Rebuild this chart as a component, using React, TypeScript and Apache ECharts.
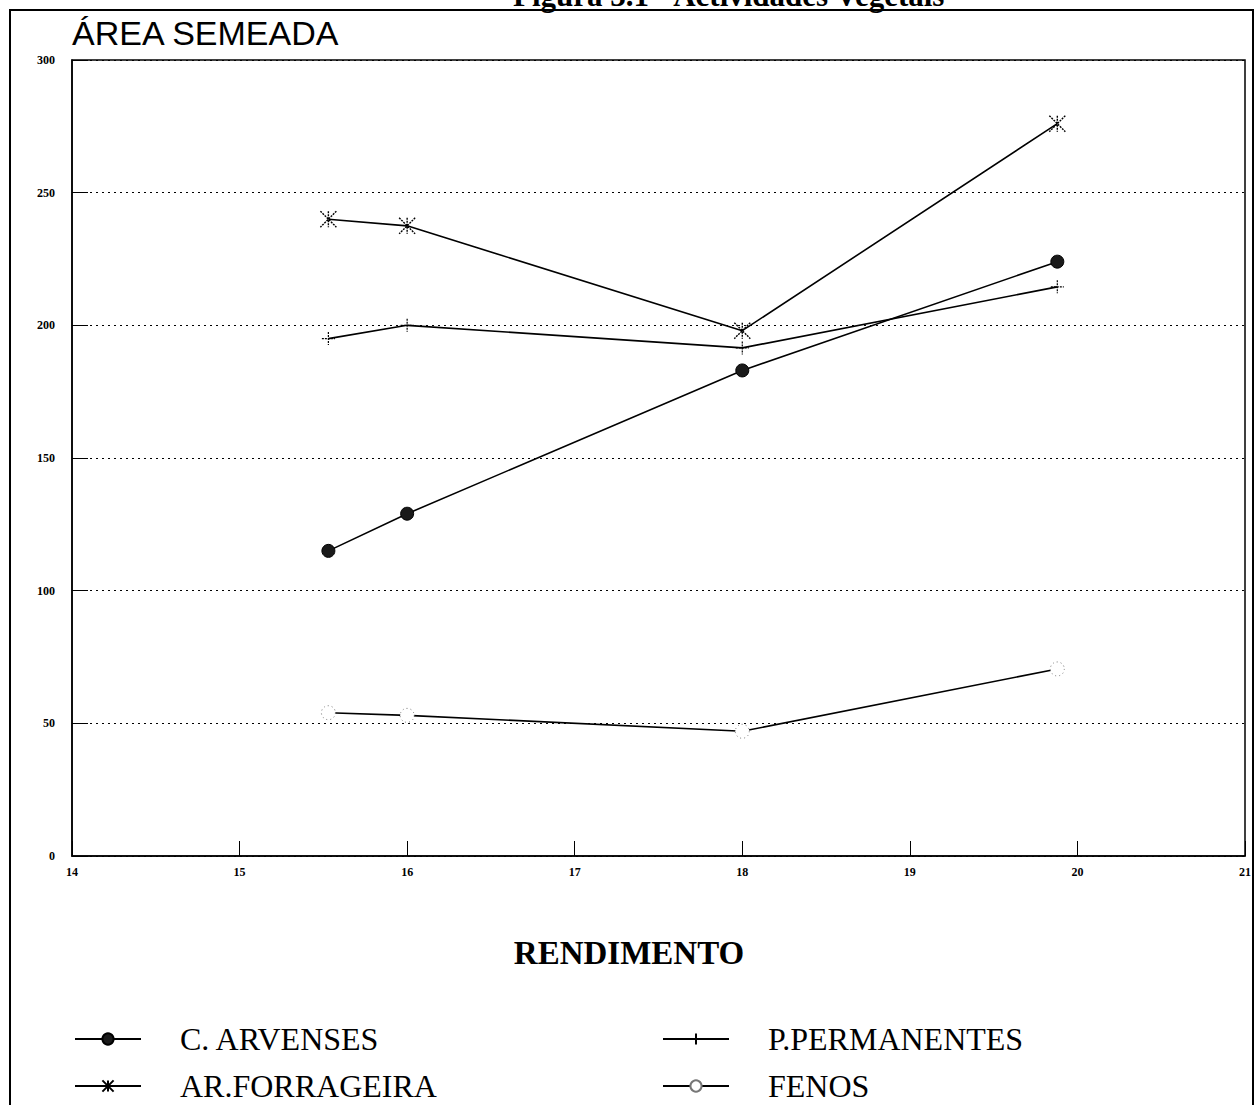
import React, { useEffect, useRef } from "react";
import * as echarts from "echarts";

const xValues = [15.53, 16.0, 18.0, 19.88];
const cArvenses = [115, 129, 183, 224];
const arForrageira = [240, 237.5, 198, 276];
const pPermanentes = [195, 200, 191.5, 214.5];
const fenos = [54, 53, 47, 70.5];
const xTicks = [14, 15, 16, 17, 18, 19, 20, 21];
const yTicks = [0, 50, 100, 150, 200, 250, 300];

const seriesNames = ["C. ARVENSES", "AR.FORRAGEIRA", "P.PERMANENTES", "FENOS"];

const pair = (ys: number[]) => xValues.map((x, i) => [x, ys[i]]);

export default function App() {
  const ref = useRef<HTMLDivElement>(null);
  useEffect(() => {
    document.body.style.margin = "0";
    const chart = echarts.init(ref.current!, null, { renderer: "svg" });
    const serif = "'Liberation Serif', 'Times New Roman', serif";
    const legendBase = {
      itemWidth: 66,
      itemHeight: 14,
      padding: 0,
      textStyle: { fontFamily: serif, fontSize: 32, lineHeight: 34, color: "#000", padding: [0, 0, 0, 34] },
      selectedMode: false,
    };
    chart.setOption({
      animation: false,
      backgroundColor: "#fff",
      grid: { left: 72, right: 10, top: 60, bottom: 249, show: true, borderColor: "#000", borderWidth: 1.5 },
      xAxis: {
        type: "value",
        min: xTicks[0],
        max: xTicks[xTicks.length - 1],
        interval: 1,
        axisLine: { lineStyle: { color: "#000", width: 1.5 } },
        axisTick: { inside: true, length: 15, lineStyle: { color: "#000" } },
        axisLabel: { margin: 10, fontFamily: serif, fontWeight: "bold", fontSize: 12, color: "#000", showMinLabel: true, showMaxLabel: true },
        splitLine: { show: false },
      },
      yAxis: {
        type: "value",
        min: yTicks[0],
        max: yTicks[yTicks.length - 1],
        interval: 50,
        axisLine: { show: true, lineStyle: { color: "#000", width: 1.5 } },
        axisTick: { show: true, inside: true, length: 16, lineStyle: { color: "#000" } },
        axisLabel: { margin: 17, fontFamily: serif, fontWeight: "bold", fontSize: 12, color: "#000" },
        splitLine: { show: true, lineStyle: { color: "#000", type: [2, 4], width: 1.2 } },
      },
      legend: [
        { ...legendBase, data: [seriesNames[0]], left: 74, top: 1022 },
        { ...legendBase, data: [seriesNames[2]], left: 662, top: 1022 },
        { ...legendBase, data: [seriesNames[1]], left: 74, top: 1069 },
        { ...legendBase, data: [seriesNames[3]], left: 662, top: 1069 },
      ],
      series: [
        {
          name: seriesNames[0],
          type: "line",
          data: pair(cArvenses),
          symbol: "circle",
          symbolSize: 13,
          lineStyle: { color: "#000", width: 1.6 },
          itemStyle: { color: "#1a1a1a", borderColor: "#000", borderWidth: 1 },
        },
        {
          name: seriesNames[1],
          type: "line",
          data: pair(arForrageira),
          symbol: "path://M0,0L10,10M10,0L0,10M5,0L5,10",
          symbolSize: 16,
          lineStyle: { color: "#000", width: 1.6 },
          itemStyle: { color: "#000", borderColor: "#000", borderWidth: 1.4, borderType: [2, 1] },
        },
        {
          name: seriesNames[2],
          type: "line",
          data: pair(pPermanentes),
          symbol: "path://M5,0L5,10M0,5L10,5",
          symbolSize: 13,
          lineStyle: { color: "#000", width: 1.6 },
          itemStyle: { color: "#000", borderColor: "#000", borderWidth: 1.2, borderType: [2, 1] },
        },
        {
          name: seriesNames[3],
          type: "line",
          data: pair(fenos),
          symbol: "circle",
          symbolSize: 14,
          lineStyle: { color: "#000", width: 1.6 },
          itemStyle: { color: "#fff", borderColor: "#777", borderWidth: 1, borderType: [1, 3] },
        },
      ],
      graphic: [
        {
          type: "polyline",
          shape: { points: [[10, 1105], [10, 10], [1253, 10], [1253, 1105]] },
          style: { stroke: "#000", lineWidth: 2, fill: "none" },
          silent: true,
        },
        {
          type: "text",
          left: 513,
          top: -20,
          style: { text: "Figura 3.1 - Actividades Vegetais", font: "bold 31px " + serif, fill: "#000" },
          silent: true,
        },
        {
          type: "text",
          left: 72,
          top: 16,
          style: { text: "ÁREA SEMEADA", font: "500 34px 'Liberation Sans', Arial, sans-serif", fill: "#000" },
          silent: true,
        },
        {
          type: "text",
          x: 629,
          y: 953,
          style: { text: "RENDIMENTO", font: "bold 33px " + serif, fill: "#000", align: "center", verticalAlign: "middle" },
          silent: true,
        },
      ],
    });
    return () => chart.dispose();
  }, []);
  return <div ref={ref} style={{ position: "fixed", left: 0, top: 0, width: 1255, height: 1105 }} />;
}
